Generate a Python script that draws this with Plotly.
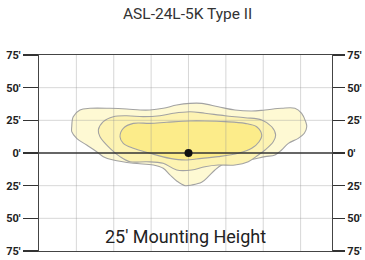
import plotly.graph_objects as go

TITLE = "ASL-24L-5K Type II"
FOOTER = "25′ Mounting Height"

Y_TICKS = [-75, -50, -25, 0, 25, 50, 75]
Y_TICK_LABELS = ["75′", "50′", "25′", "0′", "25′", "50′", "75′"]
X_GRID = [-75, -50, -25, 0, 25, 50, 75]
Y_GRID = [-50, -25, 25, 50]
X_RANGE = [-100, 96]
Y_RANGE = [-75, 75]

# Isofootcandle contours (feet)
OUTER_X = [-78.1, -77.1, -72.6, -65.9, -52.5, -41.3, -32.4, -25.8, -16.9, -7.9, 1.0, 8.8, 19.9, 31.1,
           42.3, 51.2, 62.3, 71.2, 75.7, 78.4, 79.1, 77.5, 73.4, 66.8, 62.3, 57.9, 51.2, 40.0, 28.9,
           22.2, 17.7, 13.2, 8.8, 2.1, -2.3, -7.9, -12.4, -16.9, -23.5, -36.9, -50.3, -57.0, -61.4,
           -68.1, -74.8, -78.1]
OUTER_Y = [20.1, 27.8, 32.9, 34.2, 34.2, 33.7, 32.9, 32.9, 34.2, 36.7, 38.0, 38.0, 35.4, 32.9,
           32.1, 32.9, 34.2, 34.2, 30.4, 24.0, 20.1, 15.1, 11.2, 7.4, 2.3, -1.5, -2.8, -5.4, -6.6,
           -9.2, -13.0, -18.1, -22.4, -24.5, -25.0, -21.4, -16.8, -11.7, -9.2, -7.9, -5.4, -2.8, 1.0,
           6.1, 11.2, 16.3]

MIDDLE_X = [-60.3, -57.0, -50.3, -41.3, -30.2, -19.1, -10.2, 1.0, 11.0, 24.4, 37.8, 49.0, 55.7,
            58.3, 56.7, 51.2, 46.7, 40.0, 31.1, 19.9, 11.0, 2.1, -7.9, -16.9, -28.0, -39.1, -45.8,
            -52.5, -59.2]
MIDDLE_Y = [17.6, 24.0, 27.8, 28.5, 27.8, 28.5, 30.4, 31.6, 30.4, 28.5, 27.0, 25.3, 20.1,
            13.8, 8.6, 2.3, -1.5, -6.7, -9.2, -9.2, -10.5, -13.0, -13.0, -7.9, -6.7, -6.7, -2.8,
            3.6, 12.5]

INNER_X = [-45.8, -43.6, -36.9, -25.8, -14.6, 1.0, 11.0, 24.4, 37.8, 45.6, 49.0, 47.2, 42.3,
           33.3, 19.9, 8.8, -2.3, -12.4, -25.8, -36.9, -43.6]
INNER_Y = [12.5, 18.9, 22.7, 22.7, 23.5, 24.5, 24.5, 24.0, 22.7, 20.1, 13.8, 8.6, 3.6,
           -0.2, -2.8, -4.1, -5.4, -4.1, -0.2, 3.6, 7.4]

POLE_X = [0]
POLE_Y = [0]

FILLS = ["#FEF9D3", "#FDF3B2", "#FCEC8A"]
EDGE = "#A3A3A3"
FONT = "Roboto, sans-serif"

fig = go.Figure()

for xs, ys, col in [(OUTER_X, OUTER_Y, FILLS[0]), (MIDDLE_X, MIDDLE_Y, FILLS[1]), (INNER_X, INNER_Y, FILLS[2])]:
    fig.add_trace(go.Scatter(
        x=xs + xs[:1], y=ys + ys[:1], mode="lines", fill="toself", fillcolor=col,
        line=dict(color=EDGE, width=1.1, shape="spline", smoothing=1.0),
        hoverinfo="skip", showlegend=False))

# grid lines drawn above the fills
gx, gy = [], []
for v in X_GRID:
    gx += [v, v, None]
    gy += [Y_RANGE[0], Y_RANGE[1], None]
for v in Y_GRID:
    gx += [X_RANGE[0], X_RANGE[1], None]
    gy += [v, v, None]
fig.add_trace(go.Scatter(x=gx, y=gy, mode="lines", line=dict(color="rgba(150,150,150,0.38)", width=1),
                         hoverinfo="skip", showlegend=False))

# zero line
fig.add_trace(go.Scatter(x=X_RANGE, y=[0, 0], mode="lines", line=dict(color="#333333", width=1.3),
                         hoverinfo="skip", showlegend=False))

fig.add_trace(go.Scatter(x=POLE_X, y=POLE_Y, mode="markers",
                         marker=dict(color="#111111", size=8), hoverinfo="skip", showlegend=False))

# invisible trace on right axis
fig.add_trace(go.Scatter(x=POLE_X, y=POLE_Y, yaxis="y2", mode="markers",
                         marker=dict(opacity=0), hoverinfo="skip", showlegend=False))

tickfont = dict(family=FONT, size=11, color="#222222", weight="bold")

L, R, T, B = 39, 33, 55, 9
W, H = 365, 260
plot_w = W - L - R
plot_h = H - T - B

fig.update_layout(
    width=W, height=H,
    margin=dict(l=L, r=R, t=T, b=B, autoexpand=False),
    paper_bgcolor="white", plot_bgcolor="white",
    hovermode=False,
    xaxis=dict(range=X_RANGE, showgrid=False, zeroline=False, showticklabels=False, ticks="",
               showline=True, linecolor="#444444", linewidth=1.2, mirror=True, fixedrange=True,
               automargin=False),
    yaxis=dict(range=Y_RANGE, showgrid=False, zeroline=False, tickvals=Y_TICKS, ticktext=Y_TICK_LABELS,
               ticks="outside", ticklen=15, tickwidth=1.2, tickcolor="#333333", tickfont=tickfont,
               showline=True, linecolor="#444444", linewidth=1.2, mirror=True, fixedrange=True,
               automargin=False),
    yaxis2=dict(range=Y_RANGE, overlaying="y", side="right", showgrid=False, zeroline=False,
                tickvals=Y_TICKS, ticktext=Y_TICK_LABELS, ticks="outside", ticklen=12, tickwidth=1.2,
                tickcolor="#333333", tickfont=tickfont, showline=False, fixedrange=True,
                automargin=False),
    annotations=[
        dict(text=TITLE, x=(187 - L) / plot_w, y=(H - B - 14.5) / plot_h, xref="paper", yref="paper",
             showarrow=False, yanchor="middle", font=dict(family=FONT, size=15.5, color="#333333")),
        dict(text=FOOTER, x=(185 - L) / plot_w, y=(H - B - 236) / plot_h, xref="paper", yref="paper",
             showarrow=False, yanchor="middle", font=dict(family=FONT, size=18, color="#222222")),
    ],
)

fig.write_html("out.html", config={"displayModeBar": False, "staticPlot": True},
               post_script="document.body.style.margin='0';document.body.style.padding='0';")
